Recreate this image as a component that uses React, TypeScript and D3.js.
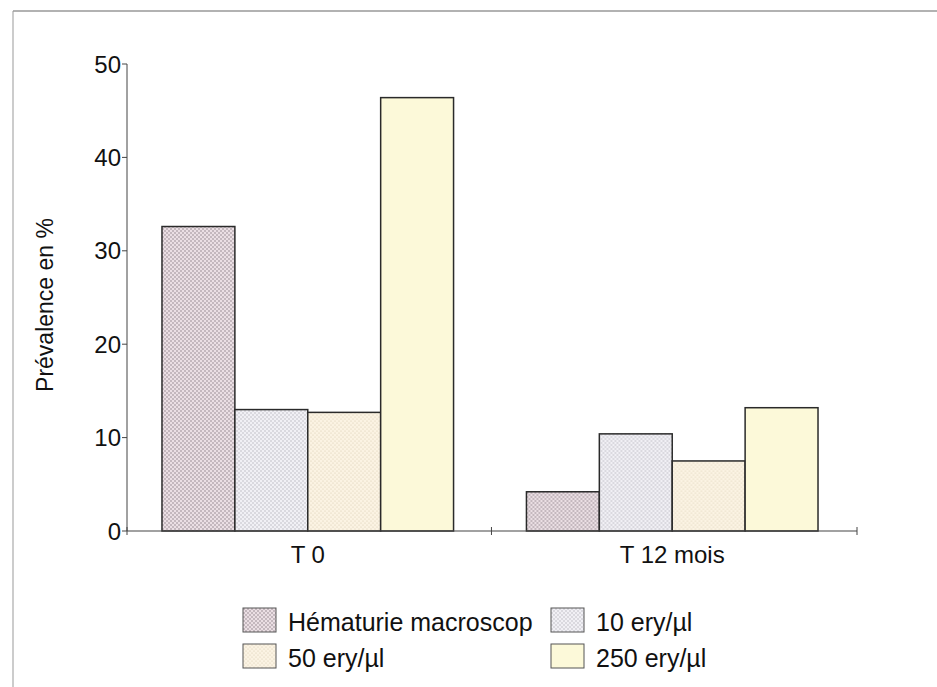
import React from "react";
import * as d3 from "d3";

const categories = ["T 0", "T 12 mois"];
const seriesNames = ["Hématurie macroscop", "10 ery/µl", "50 ery/µl", "250 ery/µl"];
const hematurie = [32.6, 4.2];
const ery10 = [13.0, 10.4];
const ery50 = [12.7, 7.5];
const ery250 = [46.4, 13.2];
const yTicks = [0, 10, 20, 30, 40, 50];

const seriesValues = [hematurie, ery10, ery50, ery250];
const fills = [
  { bg: "#ebdfe4", dot: "#8a7f85", r: 0.75 },
  { bg: "#f1f0f5", dot: "#b3b0ba", r: 0.7 },
  { bg: "#fbf3e3", dot: "#d6c9ab", r: 0.55 },
  { bg: "#fcf9d9", dot: "#fcf9d9", r: 0 },
];

export default function App() {
  const W = 937, H = 687;
  const x0 = 127, x1 = 857, yTop = 64, yBot = 531;
  const y = d3.scaleLinear().domain([0, 50]).range([yBot, yTop]);
  const xb = d3.scaleBand<string>().domain(categories).range([x0, 853]).paddingInner(0.2).paddingOuter(0.096);
  const xs = d3.scaleBand<number>().domain(d3.range(seriesNames.length)).range([0, xb.bandwidth()]);
  const font = "'Liberation Sans', Arial, sans-serif";
  const legendPos = [
    { x: 243, y: 608 },
    { x: 551, y: 608 },
    { x: 243, y: 644 },
    { x: 551, y: 644 },
  ];
  const boundaries = [x0, x0 + xb.step(), x1];
  return (
    <svg width={W} height={H} style={{ position: "absolute", left: 0, top: 0 }}>
      <defs>
        {fills.map((f, i) => (
          <pattern key={i} id={`pat${i}`} width={4} height={4} patternUnits="userSpaceOnUse">
            <rect width={4} height={4} fill={f.bg} />
            {f.r > 0 && <circle cx={1} cy={1} r={f.r} fill={f.dot} />}
            {f.r > 0 && <circle cx={3} cy={3} r={f.r} fill={f.dot} />}
          </pattern>
        ))}
      </defs>
      <rect x={0} y={0} width={W} height={H} fill="#fff" />
      <line x1={13} y1={11} x2={W} y2={11} stroke="#666" strokeWidth={1.2} />
      <line x1={13} y1={11} x2={13} y2={H} stroke="#999" strokeWidth={1} />

      {/* bars */}
      {categories.map((c, ci) => (
        <g key={c} transform={`translate(${xb(c)},0)`}>
          {seriesValues.map((vals, si) => (
            <rect
              key={si}
              x={xs(si)}
              y={y(vals[ci])}
              width={xs.bandwidth()}
              height={yBot - y(vals[ci])}
              fill={`url(#pat${si})`}
              stroke="#2a2a2a"
              strokeWidth={1.5}
            />
          ))}
        </g>
      ))}

      {/* y axis */}
      <line x1={x0} y1={yTop} x2={x0} y2={yBot} stroke="#444" strokeWidth={1} />
      {yTicks.map((t) => (
        <g key={t}>
          <line x1={x0 - 5} x2={x0} y1={y(t)} y2={y(t)} stroke="#444" />
          <text x={x0 - 6} y={y(t)} dy="0.36em" textAnchor="end" fontFamily={font} fontSize={24} fill="#111">
            {t}
          </text>
        </g>
      ))}
      <text
        transform={`translate(53,${305}) rotate(-90)`}
        textAnchor="middle"
        fontFamily={font}
        fontSize={23}
        fill="#111"
      >
        Prévalence en %
      </text>

      {/* x axis */}
      <line x1={x0} y1={yBot} x2={x1} y2={yBot} stroke="#444" strokeWidth={1.2} />
      {boundaries.map((b, i) => (
        <line key={i} x1={b} x2={b} y1={yBot - 4} y2={yBot + 4} stroke="#444" />
      ))}
      {categories.map((c) => (
        <text key={c} x={(xb(c) as number) + xb.bandwidth() / 2} y={yBot + 32} textAnchor="middle" fontFamily={font} fontSize={24} fill="#111">
          {c}
        </text>
      ))}

      {/* legend */}
      {seriesNames.map((n, i) => (
        <g key={n} transform={`translate(${legendPos[i].x},${legendPos[i].y})`}>
          <rect x={0} y={0} width={33} height={24} fill={`url(#pat${i})`} stroke="#555" strokeWidth={1} />
          <text x={45} y={23} fontFamily={font} fontSize={25} fill="#111">
            {n}
          </text>
        </g>
      ))}
    </svg>
  );
}
